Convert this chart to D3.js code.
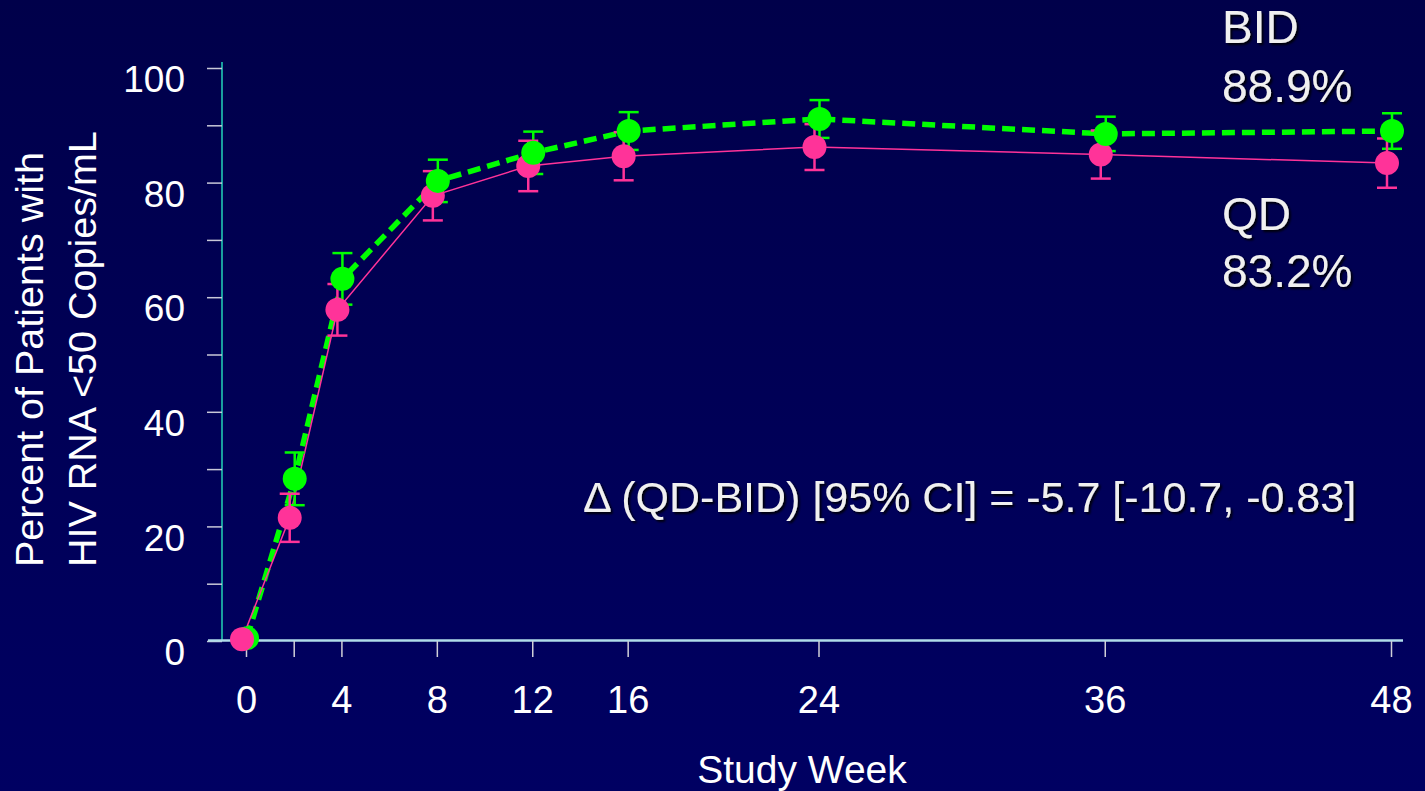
<!DOCTYPE html>
<html>
<head>
<meta charset="utf-8">
<script src="https://cdn.jsdelivr.net/npm/d3@7"></script>
<style>
html,body{margin:0;padding:0;background:#000058;}
svg{display:block;}
text{font-family:"Liberation Sans", Arial, sans-serif;}
</style>
</head>
<body>
<svg id="chart" width="1425" height="791"></svg>
<script>
// ---- data ----
const weeks = [0, 2, 4, 8, 12, 16, 24, 36, 48];
const xTickLabels = ["0", "", "4", "8", "12", "16", "24", "36", "48"];
const yTickValues = [0, 20, 40, 60, 80, 100];
const bidValues = [0.5, 28.3, 63.2, 80.3, 85.2, 89.0, 91.1, 88.5, 89.0];
const bidErrors = [0, 4.6, 4.5, 3.7, 3.7, 3.3, 3.3, 3.0, 3.1];
const qdValues  = [0.3, 21.5, 57.8, 77.7, 82.9, 84.6, 86.2, 84.9, 83.4];
const qdErrors  = [0, 4.2, 4.5, 4.3, 4.4, 4.2, 4.0, 4.2, 4.3];
const annotations = ["BID", "88.9%", "QD", "83.2%"];
const deltaText = "\u0394 (QD-BID) [95% CI] = -5.7 [-10.7, -0.83]";
const xTitle = "Study Week";
const yTitleLines = ["Percent of Patients with", "HIV RNA <50 Copies/mL"];

const svg = d3.select("#chart");
const W = 1425, H = 791;

// background gradient
const defs = svg.append("defs");
const grad = defs.append("linearGradient").attr("id","bg").attr("x1",0).attr("y1",0).attr("x2",0).attr("y2",1);
grad.append("stop").attr("offset","0%").attr("stop-color","#00004a");
grad.append("stop").attr("offset","100%").attr("stop-color","#000062");
const sh = defs.append("filter").attr("id","shadow").attr("x","-10%").attr("y","-10%").attr("width","130%").attr("height","140%");
sh.append("feDropShadow").attr("dx",2).attr("dy",2).attr("stdDeviation",0.8).attr("flood-color","#000000").attr("flood-opacity",0.9);
svg.append("rect").attr("width",W).attr("height",H).attr("fill","url(#bg)");

const x = d3.scaleLinear().domain([0,48]).range([246,1391]);
const y = d3.scaleLinear().domain([0,100]).range([641,68]);

// y axis line
svg.append("line").attr("x1",222).attr("x2",222).attr("y1",62).attr("y2",641)
  .attr("stroke","#1a9e9e").attr("stroke-width",2);
// y ticks (major + minor)
const yAxis = d3.axisLeft(y).tickValues(d3.range(0,101,10)).tickSize(15)
  .tickFormat(d => yTickValues.includes(d) ? d : "").tickPadding(22);
const gy = svg.append("g").attr("transform","translate(222,0)").call(yAxis);
gy.select(".domain").remove();
gy.selectAll(".tick line").attr("stroke","#c8c8d8").attr("stroke-width",1.5);
gy.selectAll(".tick text").attr("fill","#ffffff").attr("font-size",37)
  .attr("font-family","Liberation Sans, Arial, sans-serif").attr("dy","0.64em");

// x axis line
svg.append("line").attr("x1",208).attr("x2",1403).attr("y1",640.5).attr("y2",640.5)
  .attr("stroke","#b0dcea").attr("stroke-width",2.5);
const xAxis = d3.axisBottom(x).tickValues(weeks).tickSize(16)
  .tickFormat((d,i) => xTickLabels[i]).tickPadding(29);
const gx = svg.append("g").attr("transform","translate(0,641)").call(xAxis);
gx.select(".domain").remove();
gx.selectAll(".tick line").attr("stroke","#d0d0d8").attr("stroke-width",1.5);
gx.selectAll(".tick text").attr("fill","#ffffff").attr("font-size",38)
  .attr("font-family","Liberation Sans, Arial, sans-serif");

// axis titles
svg.append("text").attr("x",802).attr("y",783).attr("text-anchor","middle")
  .attr("fill","#ffffff").attr("font-size",39).text(xTitle);
[43, 96].forEach((bx,i) => {
  svg.append("text").attr("transform",`translate(${bx},567) rotate(-90)`)
    .attr("text-anchor","start").attr("fill","#ffffff").attr("font-size",39.5)
    .text(yTitleLines[i]);
});

// series
const qdOff = -4, bidOff = 1;
const qdPts = weeks.map((w,i)=>({w, v:qdValues[i], e:qdErrors[i]}));
const bidPts = weeks.map((w,i)=>({w, v:bidValues[i], e:bidErrors[i]}));

const line = off => d3.line().x(d=>x(d.w)+off).y(d=>y(d.v));

svg.append("path").datum(bidPts).attr("d",line(bidOff)).attr("fill","none")
  .attr("stroke","#00ff00").attr("stroke-width",5.5).attr("stroke-dasharray","13,7");
svg.append("path").datum(qdPts).attr("d",line(qdOff)).attr("fill","none")
  .attr("stroke","#ff3399").attr("stroke-width",1.5);

function errorBars(pts, off, color){
  const g = svg.append("g").attr("stroke",color).attr("stroke-width",2.5);
  pts.filter(d=>d.e>0).forEach(d=>{
    const cx = x(d.w)+off;
    g.append("line").attr("x1",cx).attr("x2",cx).attr("y1",y(d.v+d.e)).attr("y2",y(d.v-d.e));
    g.append("line").attr("x1",cx-10).attr("x2",cx+10).attr("y1",y(d.v+d.e)).attr("y2",y(d.v+d.e));
    g.append("line").attr("x1",cx-10).attr("x2",cx+10).attr("y1",y(d.v-d.e)).attr("y2",y(d.v-d.e));
  });
}
errorBars(bidPts, bidOff, "#00ff00");
errorBars(qdPts, qdOff, "#ff3399");

// week 0: green below pink
svg.append("g").selectAll("circle").data(bidPts.filter(d=>d.w===0)).join("circle")
  .attr("cx",d=>x(d.w)+bidOff).attr("cy",d=>y(d.v)).attr("r",12).attr("fill","#00ff00");
// pink circles
svg.append("g").selectAll("circle").data(qdPts).join("circle")
  .attr("cx",d=>x(d.w)+qdOff).attr("cy",d=>y(d.v)).attr("r",12).attr("fill","#ff3399");
// green circles on top for later weeks
svg.append("g").selectAll("circle").data(bidPts.filter(d=>d.w!==0)).join("circle")
  .attr("cx",d=>x(d.w)+bidOff).attr("cy",d=>y(d.v)).attr("r",12).attr("fill","#00ff00");

// annotations
const annY = [43, 102, 230, 287];
annotations.forEach((t,i)=>{
  svg.append("text").attr("x",1222).attr("y",annY[i]).attr("fill","#f0f0f0")
    .attr("font-size",46).attr("filter","url(#shadow)").text(t);
});
svg.append("text").attr("x",583).attr("y",512).attr("fill","#f0f0f0")
  .attr("font-size",43).attr("filter","url(#shadow)").text(deltaText);
</script>
</body>
</html>
